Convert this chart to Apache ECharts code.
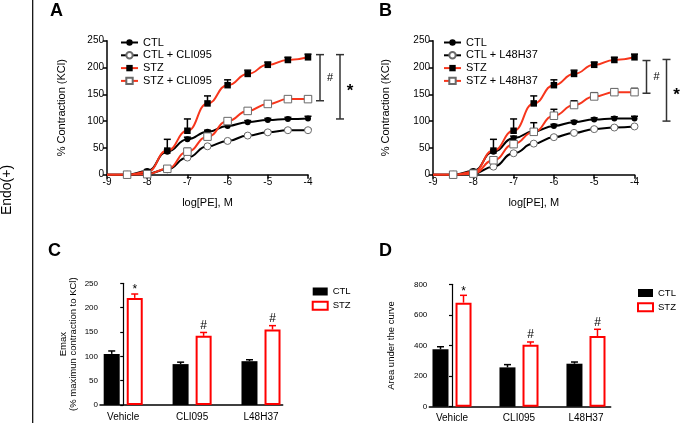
<!DOCTYPE html>
<html>
<head>
<meta charset="utf-8">
<script src="https://cdn.jsdelivr.net/npm/echarts@6/dist/echarts.min.js"></script>
<style>html,body{margin:0;padding:0;background:#fff;}#c{width:685px;height:433px;}</style>
</head>
<body>
<div id="c"></div>
<script>
// ---------- DATA ----------
const logPE = [-8.5, -8, -7.5, -7, -6.5, -6, -5.5, -5, -4.5, -4];
const curveStartX = -9;          // fitted curves start at baseline

// Panel A
const ctlA      = [0, 7, 43, 66, 80, 91, 98, 102, 104, 105];
const ctlA_sem  = [1, 2, 3, 4, 3, 3, 3, 3, 3, 4];
const ctlCliA     = [0, 2, 10, 32, 53, 63, 73, 79, 83, 83];
const ctlCliA_sem = [0, 1, 1, 2, 2, 2, 2, 2, 2, 2];
const stzA      = [0, 5, 45, 82, 133, 167, 188, 205, 214, 219];
const stzA_sem  = [0, 2, 21, 22, 14, 10, 7, 5, 5, 6];
const stzCliA     = [0, 1, 11, 43, 71, 100, 119, 132, 141, 141];
const stzCliA_sem = [0, 1, 2, 6, 6, 3, 3, 3, 4, 5];
const bracketsA = [[138, 224], [104, 224]];
const bracketMarksA = ['#', '*'];

// Panel B
const ctlB      = [0, 7, 43, 68, 81, 91, 98, 103, 105, 105];
const ctlB_sem  = [1, 2, 3, 4, 3, 3, 3, 3, 3, 4];
const ctlL48B     = [0, 2, 15, 40, 58, 70, 78, 85, 88, 90];
const ctlL48B_sem = [0, 1, 1, 2, 2, 2, 2, 2, 2, 2];
const stzB      = [0, 5, 45, 82, 133, 167, 188, 205, 214, 219];
const stzB_sem  = [0, 2, 21, 22, 14, 10, 7, 5, 5, 6];
const stzL48B     = [0, 2, 27, 57, 80, 110, 130, 146, 154, 154];
const stzL48B_sem = [0, 1, 6, 6, 17, 12, 8, 7, 6, 7];
const bracketsB = [[152, 213], [100, 215]];
const bracketMarksB = ['#', '*'];

// Panels C & D
const groups = ['Vehicle', 'CLI095', 'L48H37'];
const emaxCtl = [105, 84, 90];
const emaxCtl_sem = [6, 4, 3];
const emaxStz = [220, 142, 155];
const emaxStz_sem = [8, 7, 8];
const emaxMarks = ['*', '#', '#'];

const aucCtl = [375, 257, 281];
const aucCtl_sem = [17, 18, 11];
const aucStz = [680, 405, 462];
const aucStz_sem = [48, 18, 44];
const aucMarks = ['*', '#', '#'];

// ---------- STYLE ----------
const FF = 'Liberation Sans, Arial, sans-serif';
const RED_LINE = '#f7361c';
const RED_BAR = '#ff0000';
const OPEN_BORDER = '#6a6a6a';

function curveData(vals) {
  return [{ value: [curveStartX, 0], symbol: 'none' }].concat(logPE.map((x, i) => [x, vals[i]]));
}
function lineSeries(name, vals, color, symbol, filled, size, gi) {
  return {
    type: 'line', name: name, xAxisIndex: gi, yAxisIndex: gi,
    data: curveData(vals), smooth: 0.5, smoothMonotone: 'x',
    symbol: symbol, symbolSize: size, showSymbol: true,
    lineStyle: { color: color, width: 2 },
    itemStyle: filled ? { color: '#000', borderColor: '#000', borderWidth: 0 }
                      : { color: '#fff', borderColor: OPEN_BORDER, borderWidth: 1 },
    color: color, z: 3, animation: false
  };
}
function errSeries(vals, sem, gi, color, offsetPx, cap, marks) {
  return {
    type: 'custom', xAxisIndex: gi, yAxisIndex: gi, clip: false, z: 2, animation: false,
    data: vals.map((v, i) => [gi >= 2 ? i : logPE[i], v, sem[i]]),
    encode: { x: 0, y: 1 },
    renderItem: function (params, api) {
      const x = api.value(0), m = api.value(1), s = api.value(2);
      const p0 = api.coord([x, m]), p1 = api.coord([x, m + s]);
      const px = p0[0] + offsetPx;
      const ch = [];
      if (s > 0) {
        ch.push({ type: 'line', shape: { x1: px, y1: p0[1], x2: px, y2: p1[1] }, style: { stroke: color, lineWidth: 1.5 } });
        ch.push({ type: 'line', shape: { x1: px - cap, y1: p1[1], x2: px + cap, y2: p1[1] }, style: { stroke: color, lineWidth: 1.5 } });
      }
      if (marks) {
        const mk = marks[params.dataIndex];
        ch.push({ type: 'text', style: { x: px, y: p1[1] - (mk === '*' ? -2 : 1), text: mk,
          font: '12px ' + FF, fill: '#000', align: 'center', verticalAlign: 'bottom' } });
      }
      return { type: 'group', children: ch };
    }
  };
}
function bracketSeries(brackets, marks, gi, offsets) {
  return {
    type: 'custom', xAxisIndex: gi, yAxisIndex: gi, clip: false, z: 2, animation: false,
    data: brackets,
    renderItem: function (params, api) {
      const lo = api.value(0), hi = api.value(1);
      const xEnd = logPE[logPE.length - 1];
      const pLo = api.coord([xEnd, lo]), pHi = api.coord([xEnd, hi]);
      const x = pLo[0] + offsets[params.dataIndex];
      const st = { stroke: '#333', lineWidth: 1.5 };
      const mk = marks[params.dataIndex];
      return { type: 'group', children: [
        { type: 'line', shape: { x1: x, y1: pLo[1], x2: x, y2: pHi[1] }, style: st },
        { type: 'line', shape: { x1: x - 4, y1: pLo[1], x2: x + 4, y2: pLo[1] }, style: st },
        { type: 'line', shape: { x1: x - 4, y1: pHi[1], x2: x + 4, y2: pHi[1] }, style: st },
        { type: 'text', style: { x: x + 10, y: (pLo[1] + pHi[1]) / 2 + (mk === '*' ? 5 : 0), text: mk,
          font: (mk === '*' ? 'bold 17px ' : '11px ') + FF, fill: '#000', align: 'center', verticalAlign: 'middle' } }
      ] };
    }
  };
}

const axisLineStyle = { show: true, lineStyle: { color: '#000', width: 1.5 } };
const tickStyle = { show: true, inside: false, length: 4, lineStyle: { color: '#000', width: 1.5 } };

function logXAxis(gi) {
  return {
    type: 'value', gridIndex: gi, min: -9, max: -4, interval: 1,
    axisLine: axisLineStyle, axisTick: tickStyle, splitLine: { show: false },
    axisLabel: { color: '#000', fontSize: 10, fontFamily: FF, margin: 3 },
    name: 'log[PE], M', nameLocation: 'middle', nameGap: 23, nameMoveOverlap: false,
    nameTextStyle: { color: '#000', fontSize: 11, fontFamily: FF }
  };
}
function pctYAxis(gi, gap) {
  return {
    type: 'value', gridIndex: gi, min: 0, max: 250, interval: 50,
    axisLine: axisLineStyle, axisTick: tickStyle, splitLine: { show: false },
    axisLabel: { color: '#000', fontSize: 10, fontFamily: FF, margin: 3 },
    name: '% Contraction (KCl)', nameLocation: 'middle', nameGap: gap, nameRotate: 90, nameMoveOverlap: false,
    nameTextStyle: { color: '#000', fontSize: 11, fontFamily: FF }
  };
}
function catXAxis(gi, min, max) {
  return {
    type: 'value', gridIndex: gi, min: min, max: max,
    axisLine: axisLineStyle, axisTick: { show: false }, splitLine: { show: false },
    axisLabel: { color: '#000', fontSize: 10, fontFamily: FF, margin: 7,
      customValues: [0, 1, 2], formatter: v => groups[Math.round(v)] || '' }
  };
}
function barYAxis(gi, max, interval, name, gap, lh) {
  return {
    type: 'value', gridIndex: gi, min: 0, max: max, interval: interval,
    axisLine: { show: true, lineStyle: { color: '#000', width: 1.2 } },
    axisTick: { show: true, length: 3, lineStyle: { color: '#000', width: 1.2 } },
    splitLine: { show: false },
    axisLabel: { color: '#000', fontSize: 8, fontFamily: FF, margin: 2 },
    name: name, nameLocation: 'middle', nameGap: gap, nameRotate: 90, nameMoveOverlap: false,
    nameTextStyle: { color: '#000', fontSize: 9.5, fontFamily: FF, lineHeight: lh, align: 'center' }
  };
}
function barSeries(name, vals, gi, ctl) {
  return {
    type: 'bar', name: name, xAxisIndex: gi, yAxisIndex: gi,
    data: vals.map((v, i) => [i, v]), barWidth: 16, barGap: '44%', animation: false,
    itemStyle: ctl ? { color: '#000' } : { color: '#fff', borderColor: RED_BAR, borderWidth: 2 }, z: 1
  };
}

const lineLegend = (left, names) => ({
  left: left, top: 36.5, padding: 0, orient: 'vertical', itemWidth: 17, itemHeight: 8, itemGap: 0.8,
  selectedMode: false, data: names, formatter: n => n.split('|')[1],
  textStyle: { color: '#000', fontSize: 11, fontFamily: FF, lineHeight: 12 }
});
const barLegend = (left, top, p) => ({
  left: left, top: top, padding: 0, orient: 'vertical', itemWidth: 15, itemHeight: 8, itemGap: 3.3,
  selectedMode: false, formatter: n => n.split('|')[1],
  textStyle: { color: '#000', fontSize: 9.5, fontFamily: FF, lineHeight: 11 },
  data: [
    { name: p + '|CTL', icon: 'rect', itemStyle: { color: '#000', borderWidth: 0 } },
    { name: p + '|STZ', icon: 'rect', itemStyle: { color: '#fff', borderColor: RED_BAR, borderWidth: 2 } }
  ]
});

const option = {
  animation: false,
  textStyle: { fontFamily: FF },
  grid: [
    { left: 107, top: 40.7, width: 201, height: 134, outerBoundsMode: 'none' },
    { left: 433, top: 40.7, width: 201.5, height: 134, outerBoundsMode: 'none' },
    { left: 100, top: 283.3, width: 182.7, height: 121.7, outerBoundsMode: 'none' },
    { left: 429.3, top: 284.3, width: 181.4, height: 122.4, outerBoundsMode: 'none' }
  ],
  xAxis: [logXAxis(0), logXAxis(1), catXAxis(2, -0.337, 2.315), catXAxis(3, -0.339, 2.369)],
  yAxis: [pctYAxis(0, 40), pctYAxis(1, 42),
          barYAxis(2, 250, 50, 'Emax\n(% maximun contraction to KCl)', 22, 10),
          barYAxis(3, 800, 200, 'Area under the curve', 32, 11)],
  legend: [
    lineLegend(120, ['A|CTL', 'A|CTL + CLI095', 'A|STZ', 'A|STZ + CLI095']),
    lineLegend(443, ['B|CTL', 'B|CTL + L48H37', 'B|STZ', 'B|STZ + L48H37']),
    barLegend(311.7, 286, 'C'),
    barLegend(637, 287.5, 'D')
  ],
  series: [
    errSeries(ctlA, ctlA_sem, 0, '#000', 0, 3.5),
    errSeries(ctlCliA, ctlCliA_sem, 0, '#000', 0, 3.5),
    errSeries(stzA, stzA_sem, 0, '#000', 0, 3.5),
    errSeries(stzCliA, stzCliA_sem, 0, '#000', 0, 3.5),
    errSeries(ctlB, ctlB_sem, 1, '#000', 0, 3.5),
    errSeries(ctlL48B, ctlL48B_sem, 1, '#000', 0, 3.5),
    errSeries(stzB, stzB_sem, 1, '#000', 0, 3.5),
    errSeries(stzL48B, stzL48B_sem, 1, '#000', 0, 3.5),
    lineSeries('A|CTL', ctlA, '#000', 'circle', true, 6, 0),
    lineSeries('A|CTL + CLI095', ctlCliA, '#000', 'circle', false, 7, 0),
    lineSeries('A|STZ', stzA, RED_LINE, 'rect', true, 6.5, 0),
    lineSeries('A|STZ + CLI095', stzCliA, RED_LINE, 'rect', false, 7.5, 0),
    lineSeries('B|CTL', ctlB, '#000', 'circle', true, 6, 1),
    lineSeries('B|CTL + L48H37', ctlL48B, '#000', 'circle', false, 7, 1),
    lineSeries('B|STZ', stzB, RED_LINE, 'rect', true, 6.5, 1),
    lineSeries('B|STZ + L48H37', stzL48B, RED_LINE, 'rect', false, 7.5, 1),
    bracketSeries(bracketsA, bracketMarksA, 0, [12, 32]),
    bracketSeries(bracketsB, bracketMarksB, 1, [12, 32]),
    barSeries('C|CTL', emaxCtl, 2, true),
    barSeries('C|STZ', emaxStz, 2, false),
    errSeries(emaxCtl, emaxCtl_sem, 2, '#000', -11.5, 3.5),
    errSeries(emaxStz, emaxStz_sem, 2, RED_BAR, 11.5, 3.5, emaxMarks),
    barSeries('D|CTL', aucCtl, 3, true),
    barSeries('D|STZ', aucStz, 3, false),
    errSeries(aucCtl, aucCtl_sem, 3, '#000', -11.5, 3.5),
    errSeries(aucStz, aucStz_sem, 3, RED_BAR, 11.5, 3.5, aucMarks)
  ],
  graphic: [
    { type: 'line', shape: { x1: 32.7, y1: 0, x2: 32.7, y2: 423 }, style: { stroke: '#000', lineWidth: 1.2 } },
    { type: 'text', x: 7, y: 190, rotation: Math.PI / 2, style: { text: 'Endo(+)', font: '14px ' + FF, fill: '#000', align: 'center', verticalAlign: 'middle' } },
    { type: 'text', x: 50, y: 11.5, style: { text: 'A', font: 'bold 18px ' + FF, fill: '#000', align: 'left', verticalAlign: 'middle' } },
    { type: 'text', x: 379, y: 11.5, style: { text: 'B', font: 'bold 18px ' + FF, fill: '#000', align: 'left', verticalAlign: 'middle' } },
    { type: 'text', x: 48, y: 251.5, style: { text: 'C', font: 'bold 18px ' + FF, fill: '#000', align: 'left', verticalAlign: 'middle' } },
    { type: 'text', x: 379, y: 251.5, style: { text: 'D', font: 'bold 18px ' + FF, fill: '#000', align: 'left', verticalAlign: 'middle' } }
  ]
};

const chart = echarts.init(document.getElementById('c'), null, { renderer: 'canvas' });
chart.setOption(option);
</script>
</body>
</html>
